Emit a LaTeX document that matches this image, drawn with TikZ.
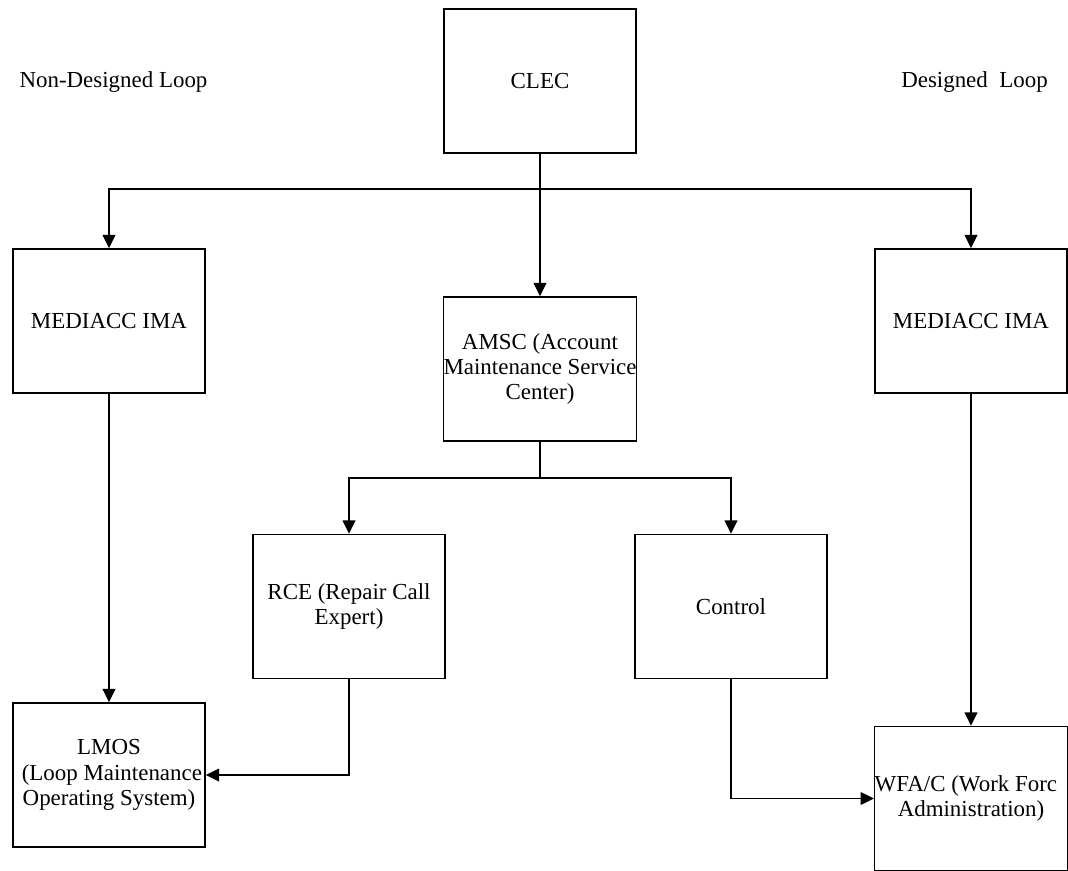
\documentclass[tikz,border=0pt]{standalone}
\usepackage{fontspec}
\setmainfont{Liberation Serif}
\usetikzlibrary{arrows.meta}
\begin{document}
\begin{tikzpicture}[x=0.75pt,y=-0.75pt,
  box/.style={draw, line width=1.1pt, minimum width=144pt, minimum height=108pt,
    inner sep=0pt, align=center, font=\fontsize{17.2}{18.9}\selectfont},
  lbl/.style={inner sep=0pt, font=\fontsize{17.2}{18.9}\selectfont},
  arr/.style={line width=1.1pt, -{Triangle[length=10pt,width=9.5pt]}}]
\fill[white] (0,0) rectangle (1068,871);
\useasboundingbox (0,0) rectangle (1068,871);

\node[lbl] (ndl) at (113.5,82) {Non-Designed Loop};
\node[lbl] (dl) at (974.5,82) {Designed\ \ Loop};

\node[box] (clec) at (540,81) {CLEC};
\node[box] (medl) at (109,321) {MEDIACC IMA};
\node[box] (medr) at (971,321) {MEDIACC IMA};
\node[box] (amsc) at (540,369) {AMSC (Account\\Maintenance Service\\Center)};
\node[box] (rce) at (349,606.5) {RCE (Repair Call\\Expert)};
\node[box] (ctrl) at (731,606.5) {Control};
\node[box] (lmos) at (109,775) {LMOS\\\ (Loop Maintenance\\Operating System)};
\node[box] (wfac) at (971,798.5) {WFA/C (Work Forc\phantom{e}\\Administration)};

\coordinate (j1) at (540,189);
\coordinate (j2) at (540,478);

\draw[arr] (clec) -- (amsc);
\draw[arr] (j1) -| (medl);
\draw[arr] (j1) -| (medr);
\draw[arr] (amsc) -- (j2) -| (rce);
\draw[arr] (j2) -| (ctrl);
\draw[arr] (medl) -- (lmos);
\draw[arr] (medr) -- (wfac);
\draw[arr] (rce) |- (lmos);
\draw[arr] (ctrl) |- (wfac);
\end{tikzpicture}
\end{document}
